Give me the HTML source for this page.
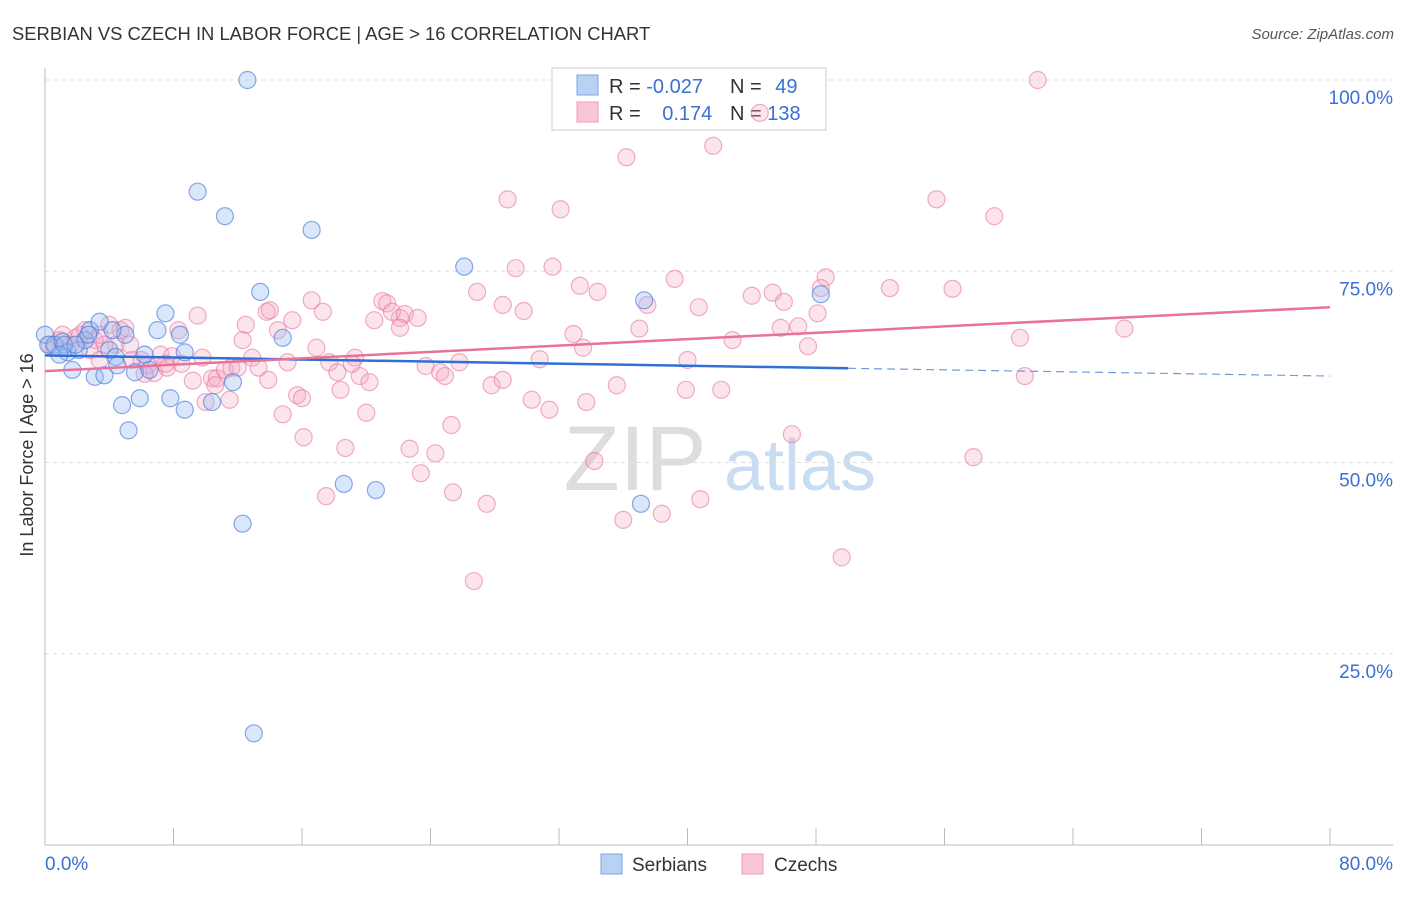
<!DOCTYPE html>
<html><head><meta charset="utf-8"><style>
body{margin:0;background:#fff;font-family:"Liberation Sans",sans-serif}
svg text{font-family:"Liberation Sans",sans-serif}
</style></head><body>
<svg id="chart" width="1406" height="892" xmlns="http://www.w3.org/2000/svg">
<text x="12" y="40" font-size="18.4" fill="#333">SERBIAN VS CZECH IN LABOR FORCE | AGE &gt; 16 CORRELATION CHART</text>
<text x="1394" y="39" font-size="15" fill="#555" text-anchor="end" font-style="italic">Source: ZipAtlas.com</text>
<g>
<text x="635" y="490" font-size="92" font-family="Liberation Serif,serif" fill="#ddd" text-anchor="middle">ZIP</text>
<text x="800" y="490" font-size="72" fill="#c9dcf2" text-anchor="middle">atlas</text>
</g>
<g id="grid"></g>
<g id="axes"></g>
<g>
<rect x="552" y="68" width="274" height="62" fill="#fff" stroke="#ccc"/>
<rect x="577" y="75" width="21" height="20" fill="#b8d2f4" stroke="#7ea6e0"/>
<rect x="577" y="102" width="21" height="20" fill="#f8c6d6" stroke="#ee9bb7"/>
<text x="609" y="93" font-size="20" fill="#333">R = <tspan fill="#3b6fd4">-0.027</tspan></text>
<text x="730" y="93" font-size="20" fill="#333">N = <tspan fill="#3b6fd4" dx="8">49</tspan></text>
<text x="609" y="120" font-size="20" fill="#333">R = <tspan fill="#3b6fd4" dx="16">0.174</tspan></text>
<text x="730" y="120" font-size="20" fill="#333">N = <tspan fill="#3b6fd4">138</tspan></text>
</g>
<g id="pts"></g>
<g id="trend"></g>
<text transform="translate(33,455) rotate(-90)" font-size="18" fill="#333" text-anchor="middle">In Labor Force | Age &gt; 16</text>
<g>
<rect x="601" y="854" width="21" height="20" fill="#b8d2f4" stroke="#7ea6e0"/>
<text x="632" y="871" font-size="19" fill="#333">Serbians</text>
<rect x="742" y="854" width="21" height="20" fill="#f8c6d6" stroke="#ee9bb7"/>
<text x="774" y="871" font-size="19" fill="#333">Czechs</text>
</g>
</svg>
<script>
const serbX=[0,0.2,0.6,1.1,1.4,1.7,2.1,2.5,2.8,3.1,3.4,3.7,4.0,4.4,4.5,4.8,5.0,5.2,5.6,5.9,6.2,6.5,7.0,7.5,7.8,8.4,8.7,8.7,9.5,10.4,11.2,11.7,12.3,12.6,13.0,13.4,14.8,16.6,18.6,20.6,26.1,37.1,37.3,48.3,1.2,1.9,2.7,4.2,0.9];
const serbY=[66.7,65.4,65.4,65.8,64.4,62.1,64.7,66.0,67.3,61.2,68.4,61.4,64.7,63.8,62.7,57.5,66.7,54.2,61.8,58.4,64.1,62.1,67.3,69.5,58.4,66.7,56.9,64.4,85.4,57.9,82.2,60.5,42.0,100,14.6,72.3,66.3,80.4,47.2,46.4,75.6,44.6,71.2,72.0,65.4,65.4,66.7,67.3,64.1];
const czX=[61.8,44.5,41.6,36.2,28.8,32.1,55.5,59.1,29.3,31.6,48.6,39.2,33.3,34.4,26.9,16.6,21.0,21.3,28.5,29.8,37.5,40.7,44.0,45.3,46.0,48.3,52.6,56.5,48.1,45.8,46.9,42.8,47.5,37.0,32.9,33.5,30.8,40.0,67.2,60.7,61.0,17.3,13.8,14.0,15.4,12.5,14.5,22.1,21.6,22.4,23.2,20.5,22.1,9.5,8.3,7.2,6.4,4.7,5.0,4.4,3.7,3.1,2.8,3.4,1.9,2.2,0.9,0.6,1.6,4.0,5.3,6.0,6.8,7.6,7.9,8.5,9.2,9.8,10.4,10.7,11.2,11.6,12.3,12.9,13.3,13.9,15.1,16.9,17.7,18.2,18.4,19.3,19.6,20.2,19.1,23.7,24.6,24.9,25.8,27.8,28.5,30.3,31.4,33.7,35.6,39.9,42.1,14.8,15.7,16.0,16.1,17.5,18.7,20.0,22.7,23.4,24.3,25.3,25.4,27.5,26.7,34.2,36.0,38.4,40.8,46.5,49.6,57.8,10.0,10.6,11.5,12.0,7.5,6.2,5.4,0.3,1.1,2.5,3.4];
const czY=[100,95.7,91.4,89.9,84.4,83.1,84.4,82.2,75.4,75.6,74.2,74.0,73.1,72.3,72.3,71.2,71.1,70.8,70.6,69.8,70.6,70.3,71.8,72.2,71.0,72.8,72.8,72.7,69.5,67.6,67.8,66.0,65.2,67.5,66.8,65.0,63.5,63.4,67.5,66.3,61.3,69.7,69.7,69.9,68.6,68.0,67.3,68.9,69.7,69.4,68.9,68.6,67.6,69.2,67.3,64.1,62.7,67.3,67.6,65.4,65.4,66.0,64.7,66.7,66.3,66.7,66.0,65.0,65.4,68.0,65.4,63.4,61.7,62.4,63.9,62.9,60.7,63.7,61.0,61.0,62.1,62.4,66.0,63.7,62.4,60.8,63.1,65.0,63.1,61.8,59.5,63.7,61.3,60.5,62.9,62.6,61.8,61.3,63.1,60.1,60.8,58.2,56.9,57.9,60.1,59.5,59.5,56.3,58.8,58.4,53.3,45.6,51.9,56.5,51.8,48.6,51.2,54.9,46.1,44.6,34.5,50.2,42.5,43.3,45.2,53.7,37.6,50.7,57.9,60.1,58.2,62.4,62.9,61.6,63.4,65.4,66.7,67.3,63.4];
const yTicks=[25,50,75,100];
const yTickLabels=["25.0%","50.0%","75.0%","100.0%"];
const xTicks=[0,8,16,24,32,40,48,56,64,72,80];
const serbTrend=[64.0,61.3];
const czTrend=[61.95,70.3];
const NS="http://www.w3.org/2000/svg";
const X0=45,X1=1330,Y0=845,Y100=80;
const sx=v=>X0+(X1-X0)*v/80;
const sy=v=>Y0-(Y0-Y100)*v/100;
function mk(p,t,a){const e=document.createElementNS(NS,t);for(const k in a)e.setAttribute(k,a[k]);p.appendChild(e);return e;}
const grid=document.getElementById('grid'),axes=document.getElementById('axes'),pts=document.getElementById('pts'),tr=document.getElementById('trend');
yTicks.forEach((v,i)=>{
 const l=mk(grid,'line',{x1:X0,x2:1393,y1:sy(v),y2:sy(v),stroke:'#ddd','stroke-dasharray':'4,4'});
 
 
 const t=mk(axes,'text',{x:1393,y:sy(v)+24,'font-size':19,fill:'#3b6fd4','text-anchor':'end'});
 t.textContent=yTickLabels[i];
 
 
});
let a=mk(axes,'line',{x1:X0,x2:X0,y1:68,y2:Y0,stroke:'#bbb'});


a=mk(axes,'line',{x1:X0,x2:1393,y1:Y0,y2:Y0,stroke:'#bbb'});


xTicks.forEach(v=>{const t=mk(axes,'line',{x1:sx(v),x2:sx(v),y1:828,y2:Y0,stroke:'#bbb'});
 
 });
let t=mk(axes,'text',{x:45,y:870,'font-size':19,fill:'#3b6fd4'});t.textContent='0.0%';


t=mk(axes,'text',{x:1393,y:870,'font-size':19,fill:'#3b6fd4','text-anchor':'end'});t.textContent='80.0%';


czX.forEach((x,i)=>{const c=mk(pts,'circle',{cx:sx(x),cy:sy(czY[i]),r:8.5,fill:'rgba(244,165,195,0.3)',stroke:'rgba(232,120,160,0.6)','stroke-width':1.2});
 
 });
serbX.forEach((x,i)=>{const c=mk(pts,'circle',{cx:sx(x),cy:sy(serbY[i]),r:8.5,fill:'rgba(150,185,240,0.35)',stroke:'rgba(70,125,220,0.65)','stroke-width':1.2});
 
 });
const se=v=>serbTrend[0]+(serbTrend[1]-serbTrend[0])*v/80;
let L=mk(tr,'line',{x1:sx(0),y1:sy(se(0)),x2:sx(50),y2:sy(se(50)),stroke:'#2f6fd6','stroke-width':2.5});


L=mk(tr,'line',{x1:sx(50),y1:sy(se(50)),x2:sx(80),y2:sy(se(80)),stroke:'#6e9be0','stroke-width':1.2,'stroke-dasharray':'8,5'});


L=mk(tr,'line',{x1:sx(0),y1:sy(czTrend[0]),x2:sx(80),y2:sy(czTrend[1]),stroke:'#e8729c','stroke-width':2.5});


</script>
</body></html>
